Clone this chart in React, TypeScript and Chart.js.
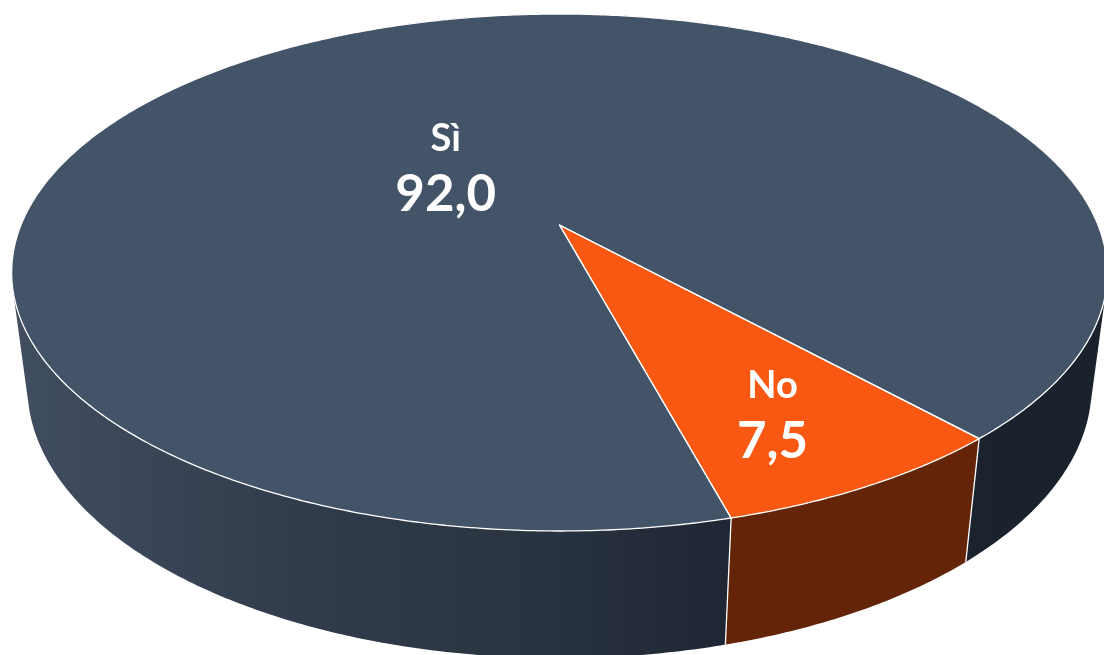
import React, { useEffect, useRef } from "react";
import { Chart, registerables } from "chart.js";

Chart.register(...registerables);

const categories = ["Sì", "No"];
const values = [92.0, 7.5];
const valueLabels = ["92,0", "7,5"];
const topColors = ["#435368", "#f85812"];

// Perspective camera of the 3D disc (pixels on a 1104x655 page)
const APEX_X = 559.5;
const APEX_Y = 225;
const SCALE_X = 538.5;
const SCALE_Y = 208.4;
const PERSP = -0.1838;
const VANISH_Y = 4300;
const DEPTH = 0.0285;
const FONT = "Lato, 'Open Sans', sans-serif";

const project = (angle: number, r: number) => {
  const u = r * Math.cos(angle);
  const v = r * Math.sin(angle);
  const d = 1 + PERSP * v;
  return { x: APEX_X + (SCALE_X * u) / d, y: (APEX_Y + SCALE_Y * v) / d };
};
// The base circle: same camera, pushed along the vertical vanishing direction
const lowerAt = (angle: number) => {
  const p = project(angle, 1);
  const d = 1 + PERSP * Math.sin(angle);
  const s = DEPTH / (d + DEPTH);
  return { x: p.x + (APEX_X - p.x) * s, y: p.y + (VANISH_Y - p.y) * s };
};

const STEP = Math.PI / 360;

function traceRim(ctx: CanvasRenderingContext2D, a0: number, a1: number) {
  const n = Math.max(2, Math.ceil(Math.abs(a1 - a0) / STEP));
  for (let i = 0; i <= n; i++) {
    const p = project(a0 + ((a1 - a0) * i) / n, 1);
    ctx.lineTo(p.x, p.y);
  }
}

// The swept wall: one consistently wound quad per rim step, so the union has no seams or holes
function traceWall(ctx: CanvasRenderingContext2D, a0: number, a1: number) {
  const n = Math.max(2, Math.ceil(Math.abs(a1 - a0) / STEP));
  for (let i = 0; i < n; i++) {
    const t0 = a0 + ((a1 - a0) * i) / n;
    const t1 = a0 + ((a1 - a0) * (i + 1)) / n;
    let q = [project(t0, 1), project(t1, 1), lowerAt(t1), lowerAt(t0)];
    let area = 0;
    q.forEach((a, k) => {
      const b = q[(k + 1) % 4];
      area += a.x * b.y - b.x * a.y;
    });
    if (area < 0) q = q.reverse();
    ctx.moveTo(q[0].x, q[0].y);
    q.slice(1).forEach((c) => ctx.lineTo(c.x, c.y));
    ctx.closePath();
  }
}

const wallFill = (ctx: CanvasRenderingContext2D, index: number) => {
  if (index === 1) return "#632407";
  const g = ctx.createLinearGradient(12, 0, 1100, 0);
  g.addColorStop(0, "#414e60");
  g.addColorStop(0.27, "#303c4b");
  g.addColorStop(0.48, "#2a3440");
  g.addColorStop(0.65, "#1e2733");
  g.addColorStop(1, "#19212b");
  return g;
};

const disc3d = {
  id: "disc3d",
  beforeDatasetDraw(chart: any) {
    const ctx: CanvasRenderingContext2D = chart.ctx;
    const arcs = chart.getDatasetMeta(0).data;
    ctx.save();
    ctx.lineJoin = "round";
    // walls
    arcs.forEach((arc: any, i: number) => {
      ctx.beginPath();
      traceWall(ctx, arc.startAngle, arc.endAngle);
      ctx.fillStyle = wallFill(ctx, i);
      ctx.fill();
    });
    // top faces
    arcs.forEach((arc: any, i: number) => {
      ctx.beginPath();
      ctx.moveTo(APEX_X, APEX_Y);
      traceRim(ctx, arc.startAngle, arc.endAngle);
      ctx.closePath();
      ctx.fillStyle = topColors[i];
      ctx.fill();
    });
    // outlines
    ctx.strokeStyle = "#ffffff";
    ctx.lineWidth = 1.3;
    arcs.forEach((arc: any) => {
      ctx.beginPath();
      ctx.moveTo(APEX_X, APEX_Y);
      traceRim(ctx, arc.startAngle, arc.endAngle);
      ctx.closePath();
      ctx.stroke();
      const top = project(arc.startAngle, 1);
      const bottom = lowerAt(arc.startAngle);
      ctx.beginPath();
      ctx.moveTo(top.x, top.y);
      ctx.lineTo(bottom.x, bottom.y);
      ctx.stroke();
    });
    // labels
    const labelRadius = [0.32, 0.726];
    const labelShift = [-35, 0];
    ctx.fillStyle = "#ffffff";
    ctx.textAlign = "center";
    ctx.textBaseline = "alphabetic";
    arcs.forEach((arc: any, i: number) => {
      const p = project((arc.startAngle + arc.endAngle) / 2, labelRadius[i]);
      const x = p.x + labelShift[i];
      ctx.font = `700 38px ${FONT}`;
      ctx.fillText(categories[i], x, p.y - 7);
      ctx.font = `700 51px ${FONT}`;
      ctx.fillText(valueLabels[i], x, p.y + 53);
    });
    ctx.restore();
    return false;
  },
};

export default function App() {
  const ref = useRef<HTMLCanvasElement>(null);
  useEffect(() => {
    const chart = new Chart(ref.current!, {
      type: "pie",
      data: {
        labels: categories,
        datasets: [{ data: values, backgroundColor: topColors, borderWidth: 0 }],
      },
      options: {
        animation: false,
        responsive: false,
        rotation: 164.8,
        plugins: { legend: { display: false }, tooltip: { enabled: false } },
      },
      plugins: [disc3d],
    } as any);
    return () => chart.destroy();
  }, []);
  return (
    <div style={{ position: "fixed", left: 0, top: 0, width: 1104, height: 655, background: "#fff", overflow: "hidden" }}>
      <canvas ref={ref} width={1104} height={655} style={{ display: "block" }} />
    </div>
  );
}
